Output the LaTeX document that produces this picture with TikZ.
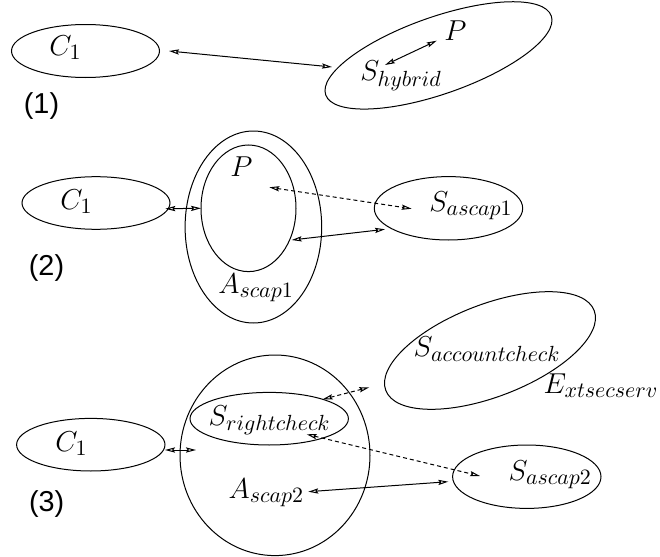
\documentclass[tikz,border=0pt]{standalone}
\usepackage{fontspec}
\newfontfamily\lsans{Liberation Sans}
\usetikzlibrary{shapes.geometric,arrows.meta}
\DeclareMathSizes{14.4}{14.4}{11}{8}
\begin{document}
\begin{tikzpicture}[x=0.5pt,y=-0.5pt,
  ell/.style 2 args={ellipse, draw, line width=0.5pt, inner sep=0pt, outer sep=0pt, minimum width={0.5pt*#1}, minimum height={0.5pt*#2}},
  lbl/.style={anchor=base west, inner sep=0pt, font=\fontsize{14.4}{17}\selectfont},
  num/.style={inner sep=0pt, font=\lsans\fontsize{14.4}{17}\selectfont},
  arr/.style={{Stealth[open,length=5pt,width=2.6pt,inset=0.8pt]}-{Stealth[open,length=5pt,width=2.6pt,inset=0.8pt]}, line width=0.5pt},
  dsh/.style={arr, dash pattern=on 2pt off 1.5pt}]
\useasboundingbox (0,0) rectangle (660,557);
% ---------- (1)
\node[ell={148}{53}] (c1a) at (85.5,51) {};
\node[ell={239}{77}, rotate=19.3] (shyb) at (438.5,55.4) {};
\node[lbl] (c1al) at (49,55.5) {$C_1$};
\node[lbl] (p1) at (444,40.5) {$P$};
\node[lbl] (shybl) at (360,81) {$S_{hybrid}$};
\node[num] (n1) at (41.5,106.5) {(1)};
\coordinate (a1s) at (169,51);
\coordinate (a1e) at (332,67);
\draw[arr] (a1s) -- (a1e);
\coordinate (b1s) at (385,65);
\coordinate (b1e) at (436.7,40.7);
\draw[arr] (b1s) -- (b1e);
% ---------- (2)
\node[ell={148}{52.6}] (c1b) at (96,203) {};
\node[ell={136.6}{192}] (aout) at (253.4,227) {};
\node[ell={95}{126.6}] (pin) at (248.5,208.3) {};
\node[ell={148.4}{63.4}] (sa1) at (448.5,208.3) {};
\node[lbl] (c1bl) at (60,209.5) {$C_1$};
\node[lbl] (p2) at (230,176.5) {$P$};
\node[lbl] (aoutl) at (218,293) {$A_{scap1}$};
\node[lbl] (sa1l) at (429,211) {$S_{ascap1}$};
\node[num] (n2) at (46.5,268) {(2)};
\coordinate (a2s) at (165.3,208.7);
\draw[arr] (a2s) -- (pin.west);
\coordinate (d2s) at (269.3,187.3);
\coordinate (d2e) at (411.7,208.7);
\draw[dsh] (d2s) -- (d2e);
\coordinate (s2s) at (291.7,240);
\coordinate (s2e) at (385,229.3);
\draw[arr] (s2s) -- (s2e);
% ---------- (3)
\node[ell={148.4}{52.6}] (c1c) at (90.8,444.7) {};
\node[ell={190}{200.6}] (aout2) at (275,455.3) {};
\node[ell={158.4}{52.6}] (src) at (269.2,418.7) {};
\node[ell={223.2}{92.4}, rotate=21] (sacc) at (490,350.5) {};
\node[ell={148.4}{63.4}] (sa2) at (526.8,476.7) {};
\node[lbl] (c1cl) at (55,451.5) {$C_1$};
\node[lbl] (srcl) at (208.3,425) {$S_{rightcheck}$};
\node[lbl] (aout2l) at (228.3,498.3) {$A_{scap2}$};
\node[lbl] (saccl) at (413.3,356.7) {$S_{accountcheck}$};
\node[lbl] (extl) at (543.3,393.3) {$E_{xtsecserv}$};
\node[lbl] (sa2l) at (508.3,480) {$S_{ascap2}$};
\node[num] (n3) at (46.7,504) {(3)};
\coordinate (a3s) at (165,450);
\coordinate (a3e) at (196,450);
\draw[arr] (a3s) -- (a3e);
\coordinate (u3s) at (322.7,399.3);
\coordinate (u3e) at (369.3,387.3);
\draw[dsh] (u3s) -- (u3e);
\coordinate (l3s) at (306.7,434.3);
\coordinate (l3e) at (480,476);
\draw[dsh] (l3s) -- (l3e);
\coordinate (s3s) at (308.3,491.7);
\coordinate (s3e) at (448.3,481.7);
\draw[arr] (s3s) -- (s3e);
\end{tikzpicture}
\end{document}
